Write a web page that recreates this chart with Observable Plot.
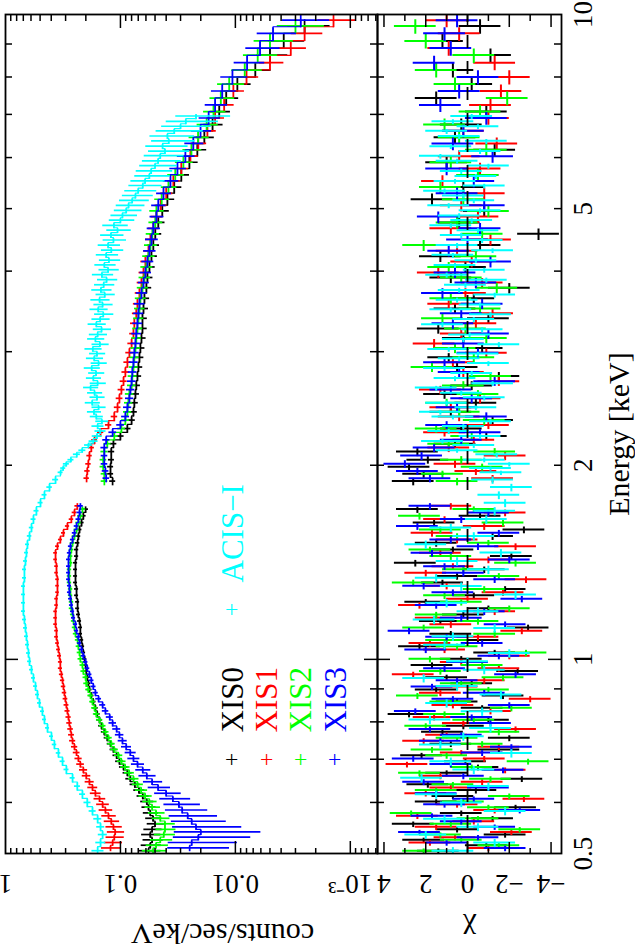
<!DOCTYPE html>
<html>
<head>
<meta charset="utf-8">
<script src="https://cdn.jsdelivr.net/npm/d3@7"></script>
<script src="https://cdn.jsdelivr.net/npm/@observablehq/plot@0.6"></script>
<style>
  html, body { margin: 0; padding: 0; background: white; }
  #wrap { position: absolute; left: 0; top: 0; width: 950px; height: 635px;
          transform-origin: 0 0; transform: translate(0px, 950px) rotate(-90deg); }
  #wrap svg { display: block; }
</style>
</head>
<body>
<div id="wrap"></div>
<script>
// ---------------- DATA ----------------
const detectors = ["XIS0", "XIS1", "XIS2", "XIS3", "ACIS−I"];
const detColors = ["#000000", "#ff0000", "#00ff00", "#0000ff", "#00ffff"];

// XIS energy bins (keV), two segments (gap near 1.8 keV); XIS0/XIS2 grid
const xisLowE = [0.505,0.515,0.525,0.535,0.545,0.556,0.567,0.578,0.59,0.602,
  0.614,0.627,0.64,0.653,0.667,0.681,0.695,0.71,0.725,0.74,
  0.756,0.772,0.789,0.806,0.823,0.841,0.86,0.879,0.898,0.918,
  0.938,0.959,0.98,1.002,1.025,1.048,1.072,1.096,1.121,1.147,
  1.174,1.2,1.228,1.257,1.286,1.316,1.347,1.379,1.412,1.446,
  1.48,1.516,1.553,1.59,1.63,1.67,1.71];
const xisHighE = [1.89,1.94,1.99,2.04,2.1,2.16,2.22,2.28,2.35,2.42,
  2.5,2.58,2.66,2.75,2.84,2.94,3.04,3.15,3.26,3.38,
  3.5,3.63,3.77,3.91,4.06,4.22,4.39,4.57,4.76,4.96,
  5.17,5.4,5.64,5.9,6.17,6.45,6.75,7.07,7.42,7.8,
  8.2,8.65,9.1,9.6];
// XIS1/XIS3 grid
const xisLowE2 = [0.51,0.52,0.53,0.54,0.55,0.561,0.572,0.584,0.596,0.608,
  0.62,0.633,0.646,0.66,0.674,0.688,0.702,0.717,0.732,0.748,
  0.764,0.78,0.797,0.814,0.832,0.85,0.869,0.888,0.908,0.928,
  0.948,0.969,0.991,1.013,1.036,1.06,1.084,1.108,1.134,1.16,
  1.187,1.214,1.242,1.271,1.301,1.331,1.363,1.395,1.429,1.463,
  1.498,1.534,1.571,1.61,1.65,1.69,1.73];
const xisHighE2 = [1.91,1.96,2.01,2.07,2.13,2.19,2.25,2.31,2.38,2.46,
  2.54,2.62,2.7,2.79,2.89,2.99,3.09,3.2,3.32,3.44,
  3.56,3.7,3.84,3.98,4.14,4.3,4.48,4.66,4.86,5.06,
  5.28,5.52,5.77,6.03,6.31,6.6,6.91,7.24,7.61,8.0,
  8.42,8.87,9.35,9.8];

// counts/sec/keV
const xis0Low = [0.057,0.055,0.053,0.055,0.053,0.050,0.052,0.055,0.057,0.059,
  0.064,0.069,0.075,0.082,0.087,0.094,0.102,0.108,0.115,0.122,
  0.130,0.138,0.146,0.152,0.159,0.165,0.172,0.179,0.186,0.190,
  0.194,0.198,0.201,0.205,0.210,0.214,0.218,0.223,0.223,0.227,
  0.232,0.236,0.236,0.241,0.241,0.246,0.246,0.246,0.246,0.241,
  0.241,0.236,0.232,0.227,0.218,0.210,0.201];
const xis0High = [0.117,0.122,0.122,0.120,0.120,0.115,0.100,0.087,0.080,0.077,
  0.0756,0.074,0.0727,0.0711,0.0697,0.0683,0.067,0.0656,0.0643,0.0643,
  0.063,0.0618,0.0594,0.0582,0.0559,0.0537,0.0517,0.0497,0.0468,0.0432,
  0.039,0.034,0.0295,0.0251,0.0214,0.0186,0.0158,0.0138,0.012,0.0096,
  0.0067,0.005,0.0038,0.0025];
const xis1Low = [0.122,0.117,0.113,0.111,0.115,0.120,0.127,0.135,0.143,0.152,
  0.165,0.175,0.186,0.198,0.210,0.223,0.232,0.241,0.251,0.261,
  0.267,0.272,0.278,0.283,0.289,0.295,0.301,0.307,0.313,0.319,
  0.326,0.333,0.333,0.339,0.346,0.353,0.360,0.360,0.367,0.367,
  0.367,0.360,0.360,0.353,0.353,0.353,0.360,0.360,0.367,0.367,
  0.353,0.333,0.313,0.289,0.267,0.251,0.237];
const xis1High = [0.197,0.194,0.190,0.186,0.179,0.168,0.149,0.127,0.113,0.106,
  0.102,0.098,0.094,0.0905,0.0869,0.0835,0.080,0.077,0.0756,0.0727,
  0.0711,0.0683,0.0656,0.063,0.0606,0.057,0.0548,0.0517,0.0486,0.0447,
  0.0399,0.0346,0.0295,0.0246,0.021,0.0175,0.015,0.0125,0.0104,0.008,
  0.005,0.0033,0.0025,0.0014];
const xis2Low = [0.052,0.049,0.045,0.042,0.041,0.041,0.045,0.049,0.053,0.056,
  0.061,0.066,0.071,0.077,0.084,0.091,0.098,0.104,0.113,0.120,
  0.127,0.135,0.143,0.152,0.162,0.168,0.175,0.182,0.190,0.198,
  0.201,0.210,0.214,0.223,0.227,0.232,0.236,0.246,0.251,0.256,
  0.261,0.267,0.267,0.272,0.272,0.278,0.278,0.278,0.272,0.272,
  0.267,0.261,0.251,0.241,0.232,0.223,0.214];
const xis2High = [0.138,0.138,0.141,0.141,0.138,0.130,0.113,0.098,0.0905,0.0869,
  0.0852,0.0835,0.080,0.0787,0.077,0.0756,0.074,0.0727,0.0711,0.0697,
  0.0683,0.067,0.0643,0.0618,0.0594,0.057,0.0548,0.0527,0.0497,0.0486,
  0.0438,0.0382,0.0333,0.0283,0.0241,0.0211,0.0178,0.0155,0.0134,0.0113,
  0.0083,0.0064,0.005,0.003];
const xis3Low = [0.025,0.024,0.021,0.020,0.022,0.024,0.026,0.029,0.031,0.035,
  0.040,0.047,0.053,0.059,0.064,0.071,0.077,0.082,0.089,0.096,
  0.102,0.108,0.117,0.124,0.135,0.143,0.155,0.165,0.172,0.179,
  0.186,0.194,0.201,0.210,0.218,0.227,0.232,0.241,0.246,0.256,
  0.261,0.267,0.272,0.278,0.278,0.283,0.283,0.283,0.283,0.278,
  0.272,0.261,0.251,0.241,0.232,0.227,0.223];
const xis3High = [0.133,0.135,0.138,0.138,0.138,0.133,0.117,0.100,0.0905,0.0869,
  0.0835,0.0818,0.080,0.0787,0.077,0.0756,0.074,0.0727,0.0711,0.0697,
  0.0683,0.0656,0.063,0.0606,0.0582,0.0559,0.0537,0.0517,0.0486,0.0468,
  0.0422,0.0367,0.0319,0.0272,0.0232,0.0201,0.0171,0.015,0.013,0.0106,
  0.0079,0.0061,0.0047,0.0027];

// relative flux errors
const xisErrLow = [0.22,0.2,0.2,0.19,0.18,0.17,0.16,0.15,0.14,0.13,
  0.12,0.11,0.1,0.095,0.09,0.085,0.08,0.075,0.07,0.068,
  0.065,0.062,0.06,0.058,0.056,0.054,0.052,0.05,0.05,0.048,
  0.047,0.046,0.045,0.044,0.043,0.042,0.042,0.041,0.041,0.04,
  0.04,0.04,0.04,0.04,0.04,0.04,0.04,0.04,0.041,0.042,
  0.043,0.044,0.045,0.047,0.05,0.053,0.056];
const xis3ErrLow = [0.55,0.6,0.65,0.7,0.6,0.5,0.45,0.4,0.35,0.3,
  0.26,0.22,0.19,0.17,0.15,0.13,0.12,0.11,0.1,0.09,
  0.085,0.08,0.075,0.07,0.065,0.06,0.058,0.055,0.052,0.05,
  0.048,0.047,0.046,0.045,0.044,0.043,0.042,0.042,0.041,0.041,
  0.04,0.04,0.04,0.04,0.04,0.04,0.04,0.04,0.041,0.042,
  0.043,0.044,0.045,0.047,0.05,0.053,0.056];
const xisErrHigh = [0.06,0.06,0.06,0.06,0.065,0.065,0.07,0.07,0.072,0.074,
  0.075,0.077,0.078,0.08,0.082,0.084,0.086,0.088,0.09,0.092,
  0.095,0.098,0.1,0.104,0.108,0.112,0.116,0.12,0.125,0.13,
  0.135,0.14,0.15,0.16,0.17,0.18,0.19,0.2,0.22,0.24,
  0.27,0.3,0.34,0.4];
const xisErrScale = [1.0, 0.9, 1.1, 1.1];

// residuals (chi)
const xis0ResLow = [1.4,-0.9,2.1,-1.8,0.5,2.6,-1.2,0.3,-2.3,1.5,
  0.7,-0.4,1.9,-2.6,1.0,-0.5,0.1,2.2,-1.5,0.8,
  -2.0,1.2,0.2,-1.0,2.8,-0.7,0.5,-1.7,1.5,-0.2,
  1.0,-2.4,1.7,0.3,-1.3,2.3,-0.5,0.8,-2.9,1.3,
  0.2,-1.0,2.0,-0.3,-1.8,1.2,0.5,-0.8,2.5,-2.1,
  0.7,1.5,-1.2,-2.7,1.6,-0.6,2.4];
const xis0ResHigh = [2.6,2.1,2.8,1.9,2.4,0.6,-0.9,0.3,-1.2,0.8,
  -0.4,1.1,-0.2,-1.5,0.5,0.9,-0.7,0.2,1.4,-1.0,
  0.6,-0.3,-2.0,0.8,0.1,1.3,-0.6,-3.4,0.4,-0.8,
  1.7,0.2,-0.5,1.0,-1.3,0.6,0.3,-0.9,1.5,-0.2,
  0.7,-1.1,1.2,-0.6];
const xis1ResLow = [-1.0,1.8,0.6,-2.1,1.5,-0.3,2.4,-1.3,0.5,-2.7,
  2.0,0.8,-0.7,1.3,-1.8,2.9,-0.8,0.3,-1.5,2.1,
  1.0,-2.3,0.2,1.6,-1.1,0.7,-3.0,1.3,0.5,-0.8,
  2.6,-1.5,0.3,-2.0,1.1,1.8,-0.5,-2.6,0.8,1.5,
  -1.3,2.3,0.0,-1.7,1.0,-2.8,2.0,0.7,-1.0,1.3,
  -2.3,0.5,1.7,-0.8,1.1,-1.8,0.8];
const xis1ResHigh = [-1.2,-0.4,0.6,-1.8,0.9,-0.3,1.1,-1.0,0.4,0.8,
  -0.6,1.3,-1.5,0.2,0.7,-0.9,1.6,0.3,-0.4,-1.2,
  0.9,0.1,-0.7,1.4,-0.2,0.5,-1.1,0.8,-0.5,0.3,
  -0.8,1.2,-0.6,0.4,-1.4,0.2,-1.0,-1.1,-1.6,-2.0,
  -1.3,0.9,0.4,1.0];
const xis2ResLow = [2.1,-1.5,0.3,1.3,-2.5,0.8,-0.5,2.7,-1.0,0.2,
  -2.0,1.5,0.7,-1.1,2.3,-0.2,-2.9,1.0,1.7,-0.7,
  0.5,-1.5,2.0,-0.3,1.1,-2.1,0.8,2.4,-1.0,0.3,
  -1.7,1.3,-0.7,1.8,-2.8,0.5,1.0,-1.3,2.1,-0.5,
  1.5,-2.0,0.3,1.1,-0.8,2.6,-1.5,0.2,-2.3,0.8,
  1.8,-1.0,0.5,1.3,-1.7,2.3,-0.3];
const xis2ResHigh = [0.5,1.2,-0.7,0.3,-1.3,0.9,-0.2,1.5,-0.8,0.4,
  1.0,-0.5,0.2,-1.1,1.7,-0.3,0.6,-0.9,0.1,1.2,
  -0.6,0.8,-1.4,0.3,0.9,-0.4,2.1,-0.7,0.5,-1.0,
  0.2,1.3,-0.5,0.8,-0.9,0.4,1.1,-0.6,-1.9,0.6,
  1.5,-0.3,2.0,2.5];
const xis3ResLow = [-1.8,1.0,-0.5,2.3,-1.3,0.3,1.7,-2.5,1.1,-0.3,
  1.5,-1.0,2.1,0.2,-1.7,0.8,2.6,-0.7,-2.1,1.3,
  0.3,1.8,-1.1,-0.2,2.5,-2.0,0.7,-0.8,1.7,0.5,
  -2.3,1.1,0.0,-1.5,2.0,-0.7,1.0,2.8,-1.8,0.3,
  -0.8,1.5,-2.6,0.7,2.1,-1.3,0.2,1.1,-2.0,1.7,
  -0.5,0.8,-1.5,2.4,0.3,-1.0,1.8];
const xis3ResHigh = [1.8,2.4,3.0,2.2,1.6,0.3,-0.6,1.0,-0.9,0.5,
  -0.2,0.8,-1.3,0.4,1.1,-0.5,0.2,-1.0,0.7,0.3,
  -0.7,1.2,-0.4,0.6,-1.1,0.9,0.0,-0.6,1.4,-0.8,
  0.5,-0.3,1.0,-1.2,0.7,0.2,-0.9,1.3,0.4,-0.5,
  1.6,0.8,1.1,0.5];

// ACIS-I: soft part (0.5–1.9 keV) and hard part (1.95–7 keV)
const acisLowE = [0.505,0.52,0.535,0.55,0.566,0.582,0.6,0.618,0.636,0.655,
  0.675,0.695,0.716,0.738,0.76,0.783,0.807,0.831,0.856,0.882,
  0.909,0.936,0.964,0.993,1.023,1.054,1.086,1.119,1.153,1.188,
  1.224,1.261,1.299,1.338,1.379,1.421,1.464,1.508,1.554,1.601,
  1.65,1.7,1.75,1.8,1.85,1.9];
const acisLowFlux = [0.158,0.149,0.143,0.149,0.158,0.175,0.194,0.214,0.237,0.261,
  0.295,0.319,0.346,0.375,0.398,0.431,0.458,0.477,0.506,0.527,
  0.548,0.571,0.594,0.618,0.631,0.644,0.657,0.670,0.684,0.698,
  0.698,0.698,0.698,0.684,0.684,0.670,0.657,0.644,0.618,0.594,
  0.571,0.538,0.496,0.458,0.414,0.367];
const acisLowErr = [0.12,0.1,0.09,0.08,0.08,0.07,0.07,0.06,0.06,0.05,
  0.05,0.05,0.045,0.045,0.04,0.04,0.04,0.04,0.04,0.04,
  0.04,0.04,0.04,0.04,0.04,0.04,0.04,0.04,0.04,0.04,
  0.04,0.04,0.04,0.04,0.04,0.04,0.04,0.04,0.045,0.045,
  0.05,0.05,0.05,0.05,0.055,0.06];
const acisLowRes = [0.7,-1.3,2.0,-0.5,1.1,-1.8,0.3,1.5,-1.0,2.2,
  -0.3,0.8,-2.1,1.3,0.2,-1.1,1.8,-0.7,1.0,-1.6,
  0.5,2.1,-0.8,0.0,-2.0,1.1,0.7,-1.3,1.6,-0.5,
  1.0,-2.3,0.3,1.5,-1.0,0.5,-1.6,2.0,-0.3,0.8,
  -0.9,-1.3,-1.8,-1.5,-2.1,-1.2];
const acisHighE = [1.95,1.98,2.01,2.04,2.08,2.11,2.15,2.18,2.22,2.26,
  2.3,2.34,2.38,2.42,2.46,2.5,2.55,2.59,2.64,2.68,
  2.73,2.78,2.83,2.88,2.93,2.98,3.03,3.08,3.14,3.19,
  3.25,3.31,3.37,3.43,3.49,3.55,3.61,3.68,3.74,3.81,
  3.88,3.95,4.02,4.09,4.16,4.24,4.31,4.39,4.47,4.55,
  4.63,4.71,4.8,4.88,4.97,5.06,5.15,5.24,5.33,5.43,
  5.52,5.62,5.72,5.83,5.93,6.04,6.14,6.25,6.37,6.48,
  6.6,6.71,6.83,6.96];
const acisHighFlux = [0.332,0.315,0.296,0.27,0.24,0.215,0.19,0.172,0.16,0.15,
  0.158,0.145,0.162,0.17,0.155,0.176,0.16,0.168,0.182,0.158,
  0.172,0.163,0.178,0.155,0.169,0.16,0.174,0.151,0.165,0.158,
  0.146,0.162,0.15,0.141,0.156,0.143,0.152,0.137,0.148,0.14,
  0.132,0.145,0.128,0.138,0.126,0.133,0.12,0.128,0.115,0.121,
  0.106,0.114,0.1,0.096,0.089,0.085,0.079,0.074,0.07,0.064,
  0.061,0.056,0.054,0.05,0.047,0.045,0.041,0.043,0.038,0.039,
  0.034,0.03,0.027,0.022];
const acisHighErr = [0.05,0.05,0.06,0.06,0.07,0.07,0.08,0.09,0.1,0.11,
  0.12,0.13,0.13,0.14,0.14,0.15,0.15,0.15,0.15,0.16,
  0.15,0.16,0.16,0.16,0.17,0.16,0.17,0.17,0.17,0.18,
  0.18,0.18,0.18,0.19,0.18,0.19,0.19,0.19,0.2,0.2,
  0.2,0.21,0.2,0.21,0.21,0.22,0.22,0.22,0.23,0.23,
  0.24,0.25,0.25,0.26,0.27,0.28,0.29,0.3,0.31,0.32,
  0.33,0.34,0.35,0.36,0.37,0.38,0.39,0.4,0.41,0.42,
  0.44,0.46,0.48,0.5];
const acisHighRes = [-1.6,-1.1,-2.0,-0.8,-1.4,0.5,-0.3,1.2,-0.6,0.9,
  0.2,-1.1,0.7,1.3,-0.4,1.0,-0.8,0.3,1.5,-1.2,
  0.6,-0.2,1.1,-1.0,0.4,-0.5,0.9,-1.5,0.2,-0.1,
  -0.7,1.2,-0.3,-1.1,0.8,-0.6,0.5,-1.3,0.4,0.1,
  -0.9,1.0,-0.8,0.6,-0.4,0.7,-1.2,0.5,-0.7,0.3,
  -0.5,0.8,-0.2,0.4,-0.6,0.9,-0.3,0.2,1.1,-0.8,
  0.6,-0.4,0.3,-1.0,0.5,1.3,-0.6,0.8,-0.9,0.4,
  1.0,-0.5,0.7,-0.2];

// axes
const energyLabelVals = [0.5, 1, 2, 5, 10];
const energyLabelText = ["0.5", "1", "2", "5", "10"];
const energyMajor = [1];
const energyMinor = [0.6, 0.7, 0.8, 0.9, 2, 3, 4, 5, 6, 7, 8, 9];
const fluxLabelVals = [1, 0.1, 0.01, 0.001];
const fluxLabelText = ["1", "0.1", "0.01", "10⁻³"];
const fluxMajor = [0.1, 0.01, 0.001];
const fluxMinor = [0.9,0.8,0.7,0.6,0.5,0.4,0.3,0.2,
  0.09,0.08,0.07,0.06,0.05,0.04,0.03,0.02,
  0.009,0.008,0.007,0.006,0.005,0.004,0.003,0.002,
  0.0009,0.0008,0.0007,0.0006];
const chiLabelVals = [4, 2, 0, -2, -4];
const chiLabelText = ["4", "2", "0", "−2", "−4"];
const chiMajor = [-4, -2, 0, 2, 4];
const chiMinor = [-3, -1, 1, 3];
const legendRows = [["XIS0", 0, 0], ["XIS1", 0, 1], ["XIS2", 0, 2], ["XIS3", 0, 3], ["ACIS−I", 1, 0]];

// ---------------- BUILD ----------------
function edges(c) {
  return c.map((v, i) => {
    const lo = i > 0 ? (c[i - 1] + v) / 2 : v - (c[1] - v) / 2;
    const hi = i < c.length - 1 ? (v + c[i + 1]) / 2 : v + (v - c[i - 1]) / 2;
    return [lo, hi];
  });
}
function rowsFor(det, segs) {
  const out = [];
  segs.forEach((s, si) => {
    const ed = edges(s.E);
    s.E.forEach((e, i) => {
      const f = s.F[i], er = s.err[i];
      out.push({det, seg: det + (s.z ?? si), E: e, lo: ed[i][0], hi: ed[i][1], F: f,
        F1: Math.max(f * (1 - er), 1e-6), F2: f * (1 + er), chi: s.res[i]});
    });
  });
  return out;
}
const sc = xisErrScale;
const datasets = [
  rowsFor("XIS0", [{E: xisLowE, F: xis0Low, err: xisErrLow.map(v => v * sc[0]), res: xis0ResLow},
                   {E: xisHighE, F: xis0High, err: xisErrHigh.map(v => v * sc[0]), res: xis0ResHigh}]),
  rowsFor("XIS1", [{E: xisLowE2, F: xis1Low, err: xisErrLow.map(v => v * sc[1]), res: xis1ResLow},
                   {E: xisHighE2, F: xis1High, err: xisErrHigh.map(v => v * sc[1]), res: xis1ResHigh}]),
  rowsFor("XIS2", [{E: xisLowE, F: xis2Low, err: xisErrLow.map(v => v * sc[2]), res: xis2ResLow},
                   {E: xisHighE, F: xis2High, err: xisErrHigh.map(v => v * sc[2]), res: xis2ResHigh}]),
  rowsFor("XIS3", [{E: xisLowE2, F: xis3Low, err: xis3ErrLow, res: xis3ResLow},
                   {E: xisHighE2, F: xis3High, err: xisErrHigh.map(v => v * sc[3]), res: xis3ResHigh}]),
  rowsFor("ACIS−I", [{E: acisLowE, F: acisLowFlux, err: acisLowErr, res: acisLowRes, z: 0},
                     {E: acisHighE, F: acisHighFlux, err: acisHighErr, res: acisHighRes, z: 0}])
];

const FONT = "Liberation Serif, Times New Roman, serif";
const W = 950, ML = 96, MR = 15;
const FW = W - ML - MR;
const lw = 1.5;

function tickMarksX(fh, vals, len) {
  return [
    Plot.tickX(vals, {x: d => d, insetTop: fh - len, stroke: "black", strokeWidth: lw}),
    Plot.tickX(vals, {x: d => d, insetBottom: fh - len, stroke: "black", strokeWidth: lw})
  ];
}
function tickMarksY(vals, len) {
  return [
    Plot.tickY(vals, {y: d => d, insetRight: FW - len, stroke: "black", strokeWidth: lw}),
    Plot.tickY(vals, {y: d => d, insetLeft: FW - len, stroke: "black", strokeWidth: lw})
  ];
}

// ---------- top panel (spectrum) ----------
const topH = 377, topMT = 5;
const topFH = topH - topMT;
const topMarks = [];
datasets.forEach((rows, k) => {
  const c = detColors[k];
  topMarks.push(Plot.line(rows, {x: "E", y: "F", z: "seg", curve: "step", stroke: c, strokeWidth: 1.2, clip: true}));
  topMarks.push(Plot.ruleY(rows, {y: "F", x1: "lo", x2: "hi", stroke: c, strokeWidth: 1.7, clip: true}));
  topMarks.push(Plot.ruleX(rows, {x: "E", y1: "F1", y2: "F2", stroke: c, strokeWidth: 1.7, clip: true}));
});
topMarks.push(...tickMarksX(topFH, energyMinor, 7), ...tickMarksX(topFH, energyMajor, 13));
topMarks.push(...tickMarksY(fluxMinor, 6), ...tickMarksY(fluxMajor, 13));
topMarks.push(Plot.frame({stroke: "black", strokeWidth: 1.8}));
topMarks.push(Plot.text(fluxLabelVals.map((v, i) => ({v, t: fluxLabelText[i]})), {
  y: "v", text: "t", frameAnchor: "left", dx: -21, rotate: -90, textAnchor: "middle",
  lineAnchor: "bottom", fontSize: 27, fontFamily: FONT, fill: "black"}));
topMarks.push(Plot.text(["counts/sec/keV"], {
  frameAnchor: "top-left", dx: -70, dy: 217, rotate: -90, textAnchor: "middle",
  lineAnchor: "bottom", fontSize: 30, fontFamily: FONT, fill: "black"}));
// legend
legendRows.forEach(([name, col, row]) => {
  const k = detectors.indexOf(name);
  const px = 94 + col * 150, ty = 237 + row * 34.4;
  topMarks.push(Plot.text(["+"], {frameAnchor: "top-left", dx: px, dy: ty - 11, textAnchor: "middle",
    lineAnchor: "middle", fontSize: 24, fontFamily: FONT, fill: detColors[k]}));
  topMarks.push(Plot.text([name], {frameAnchor: "top-left", dx: px + 27, dy: ty, textAnchor: "start",
    lineAnchor: "bottom", fontSize: 31, fontFamily: FONT, fill: detColors[k]}));
});

const topChart = Plot.plot({
  width: W, height: topH, marginLeft: ML, marginRight: MR, marginTop: topMT, marginBottom: 0,
  style: {fontFamily: FONT, background: "white", overflow: "visible"},
  x: {type: "log", domain: [0.5, 10], axis: null},
  y: {type: "log", domain: [5.8e-4, 1], axis: null},
  marks: topMarks
});

// ---------- bottom panel (residuals) ----------
const botH = 258, botMB = 74;
const botFH = botH - botMB;
const botMarks = [];
datasets.forEach((rows, k) => {
  const c = detColors[k];
  botMarks.push(Plot.ruleY(rows, {y: "chi", x1: "lo", x2: "hi", stroke: c, strokeWidth: 2, clip: true}));
  botMarks.push(Plot.ruleX(rows, {x: "E", y1: d => d.chi - 1, y2: d => d.chi + 1, stroke: c, strokeWidth: 2, clip: true}));
});
botMarks.push(Plot.ruleY([0], {stroke: "black", strokeWidth: 1.8, strokeDasharray: "13,13"}));
botMarks.push(...tickMarksX(botFH, energyMinor, 7), ...tickMarksX(botFH, energyMajor, 13));
botMarks.push(...tickMarksY(chiMinor, 6), ...tickMarksY(chiMajor, 12));
botMarks.push(Plot.frame({stroke: "black", strokeWidth: 1.8}));
botMarks.push(Plot.text(chiLabelVals.map((v, i) => ({v, t: chiLabelText[i]})), {
  y: "v", text: "t", frameAnchor: "left", dx: -21, rotate: -90, textAnchor: "middle",
  lineAnchor: "bottom", fontSize: 27, fontFamily: FONT, fill: "black"}));
botMarks.push(Plot.text(["χ"], {
  frameAnchor: "left", dx: -66, rotate: -90, textAnchor: "middle",
  lineAnchor: "bottom", fontSize: 30, fontFamily: FONT, fill: "black"}));
botMarks.push(Plot.text(energyLabelVals.map((v, i) => ({v, t: energyLabelText[i]})), {
  x: "v", text: "t", frameAnchor: "bottom", dy: 11, textAnchor: "middle",
  lineAnchor: "top", fontSize: 27, fontFamily: FONT, fill: "black"}));
botMarks.push(Plot.text(["Energy [keV]"], {
  frameAnchor: "bottom", dy: 67, textAnchor: "middle", lineAnchor: "bottom", fontSize: 30, fontFamily: FONT, fill: "black"}));

const botChart = Plot.plot({
  width: W, height: botH, marginLeft: ML, marginRight: MR, marginTop: 0, marginBottom: botMB,
  style: {fontFamily: FONT, background: "white", overflow: "visible"},
  x: {type: "log", domain: [0.5, 10], axis: null},
  y: {domain: [-4.5, 4.31], axis: null},
  marks: botMarks
});

const wrap = document.getElementById("wrap");
wrap.appendChild(topChart);
wrap.appendChild(botChart);
</script>
</body>
</html>
